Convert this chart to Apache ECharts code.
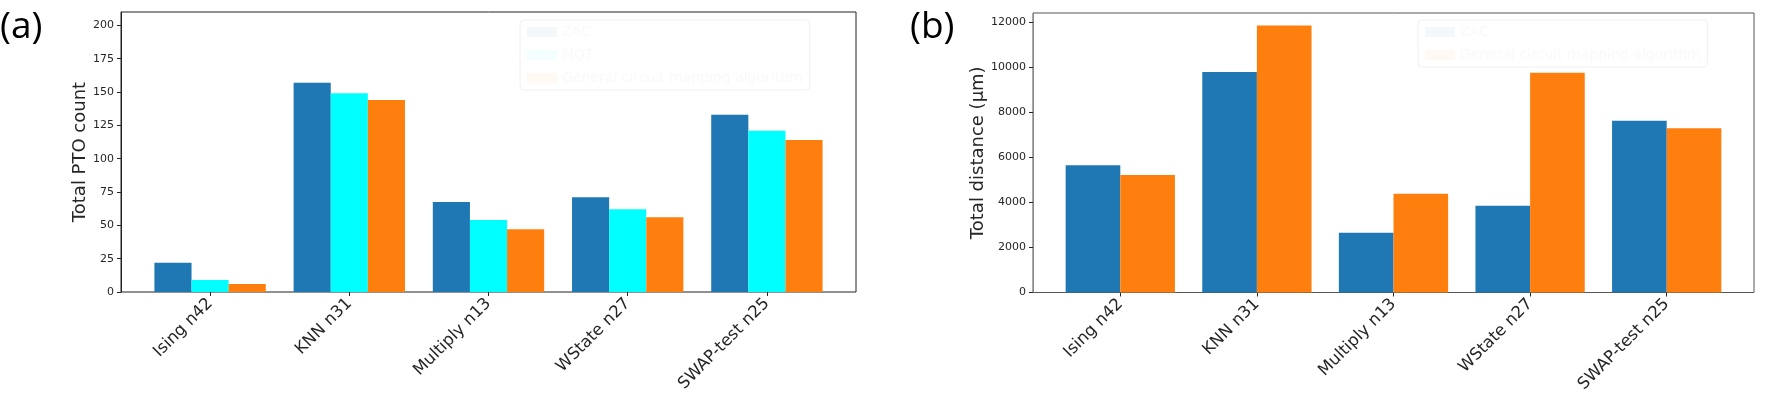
<!DOCTYPE html>
<html>
<head>
<meta charset="utf-8">
<script src="https://cdn.jsdelivr.net/npm/echarts@6/dist/echarts.min.js"></script>
<style>
  html, body { margin: 0; padding: 0; background: #fff; }
  #main { width: 1766px; height: 405px; }
</style>
</head>
<body>
<div id="main"></div>
<script>
// benchmark circuits
var categories = ['Ising n42', 'KNN n31', 'Multiply n13', 'WState n27', 'SWAP-test n25'];

// (a) total PTO count
var ptoZac = [22, 157, 67.5, 71, 133];
var ptoMqt = [9, 149, 54, 62, 121];
var ptoGeneral = [6, 144, 47, 56, 114];
var ptoTicks = [0, 25, 50, 75, 100, 125, 150, 175, 200];

// (b) total distance (um)
var distZac = [5660, 9800, 2660, 3850, 7630];
var distGeneral = [5220, 11870, 4390, 9760, 7300];
var distTicks = [0, 2000, 4000, 6000, 8000, 10000, 12000];

var chart = echarts.init(document.getElementById('main'));

var txt = '#262626';
var font = 'DejaVu Sans';
var cBlue = '#1f77b4', cCyan = '#00ffff', cOrange = '#ff7f0e';
var genName = 'General circuit mapping algorithm';

function valueAxis(idx, max, ticks, name, gap, lineColor) {
    return {
        type: 'value', gridIndex: idx, min: 0, max: max,
        name: name, nameLocation: 'middle', nameGap: gap,
        nameTextStyle: { color: txt, fontSize: 18, fontFamily: font },
        axisLine: { show: true, lineStyle: { color: lineColor, width: 1 } },
        axisTick: { show: true, length: 4, lineStyle: { color: txt }, customValues: ticks },
        axisLabel: {
            color: txt, fontSize: 11, fontFamily: font, margin: 7, customValues: ticks,
            formatter: function (v) { return String(v); }
        },
        splitLine: { show: false }
    };
}
function hiddenY(idx, max) {
    return { type: 'value', gridIndex: idx, min: 0, max: max, show: false };
}
function catAxis(idx) {
    return {
        type: 'category', gridIndex: idx, data: categories,
        axisLine: { show: false },
        axisTick: { show: true, alignWithLabel: true, length: 4, lineStyle: { color: txt } },
        axisLabel: { interval: 0, rotate: 45, color: txt, fontSize: 16.5, fontFamily: font, margin: 9 }
    };
}
function bar(name, data, color, xi, yi) {
    return {
        type: 'bar', name: name, data: data, xAxisIndex: xi, yAxisIndex: yi,
        barGap: '0%', barCategoryGap: '20%',
        itemStyle: { color: color }, animation: false
    };
}
// legend is almost transparent in the original figure
function legend(names, colors, left) {
    var items = names.map(function (n, i) {
        return { name: n, itemStyle: { color: colors[i] } };
    });
    return {
        data: items, orient: 'vertical', left: left, top: 20,
        icon: 'rect', itemWidth: 30, itemHeight: 10, itemGap: 9,
        padding: [5, 7], borderColor: '#f0f0f0', borderWidth: 1, borderRadius: 4,
        textStyle: { color: '#f9f9f9', fontSize: 14, fontFamily: font }
    };
}

option = {
    backgroundColor: '#fff',
    animation: false,
    graphic: [
        { type: 'text', left: 0, top: 9, style: { text: '(a)', fontSize: 37, fontFamily: 'Open Sans', fill: '#000' } },
        { type: 'text', left: 910, top: 9, style: { text: '(b)', fontSize: 37, fontFamily: 'Open Sans', fill: '#000' } }
    ],
    legend: [
        legend(['ZAC', 'MQT', genName], ['#f4f8fb', '#f3fefe', '#fff8f3'], 520),
        legend(['ZAC', genName], ['#f4f8fb', '#fff8f3'], 1418)
    ],
    grid: [
        { left: 121, top: 12, width: 735, height: 280, show: true, borderColor: '#222', borderWidth: 1 },
        { left: 140.5, top: 12, width: 696, height: 280 },
        { left: 1033, top: 13, width: 721, height: 279.5, show: true, borderColor: '#555', borderWidth: 1 },
        { left: 1052, top: 13, width: 683, height: 279.5 }
    ],
    xAxis: [
        { type: 'value', gridIndex: 0, show: false },
        catAxis(1),
        { type: 'value', gridIndex: 2, show: false },
        catAxis(3)
    ],
    yAxis: [
        valueAxis(0, 210, ptoTicks, 'Total PTO count', 32, '#222'),
        hiddenY(1, 210),
        valueAxis(2, 12420, distTicks, 'Total distance (\u03bcm)', 46, '#888'),
        hiddenY(3, 12420)
    ],
    series: [
        bar('ZAC', ptoZac, cBlue, 1, 1),
        bar('MQT', ptoMqt, cCyan, 1, 1),
        bar(genName, ptoGeneral, cOrange, 1, 1),
        bar('ZAC', distZac, cBlue, 3, 3),
        bar(genName, distGeneral, cOrange, 3, 3)
    ]
};

chart.setOption(option);
</script>
</body>
</html>
